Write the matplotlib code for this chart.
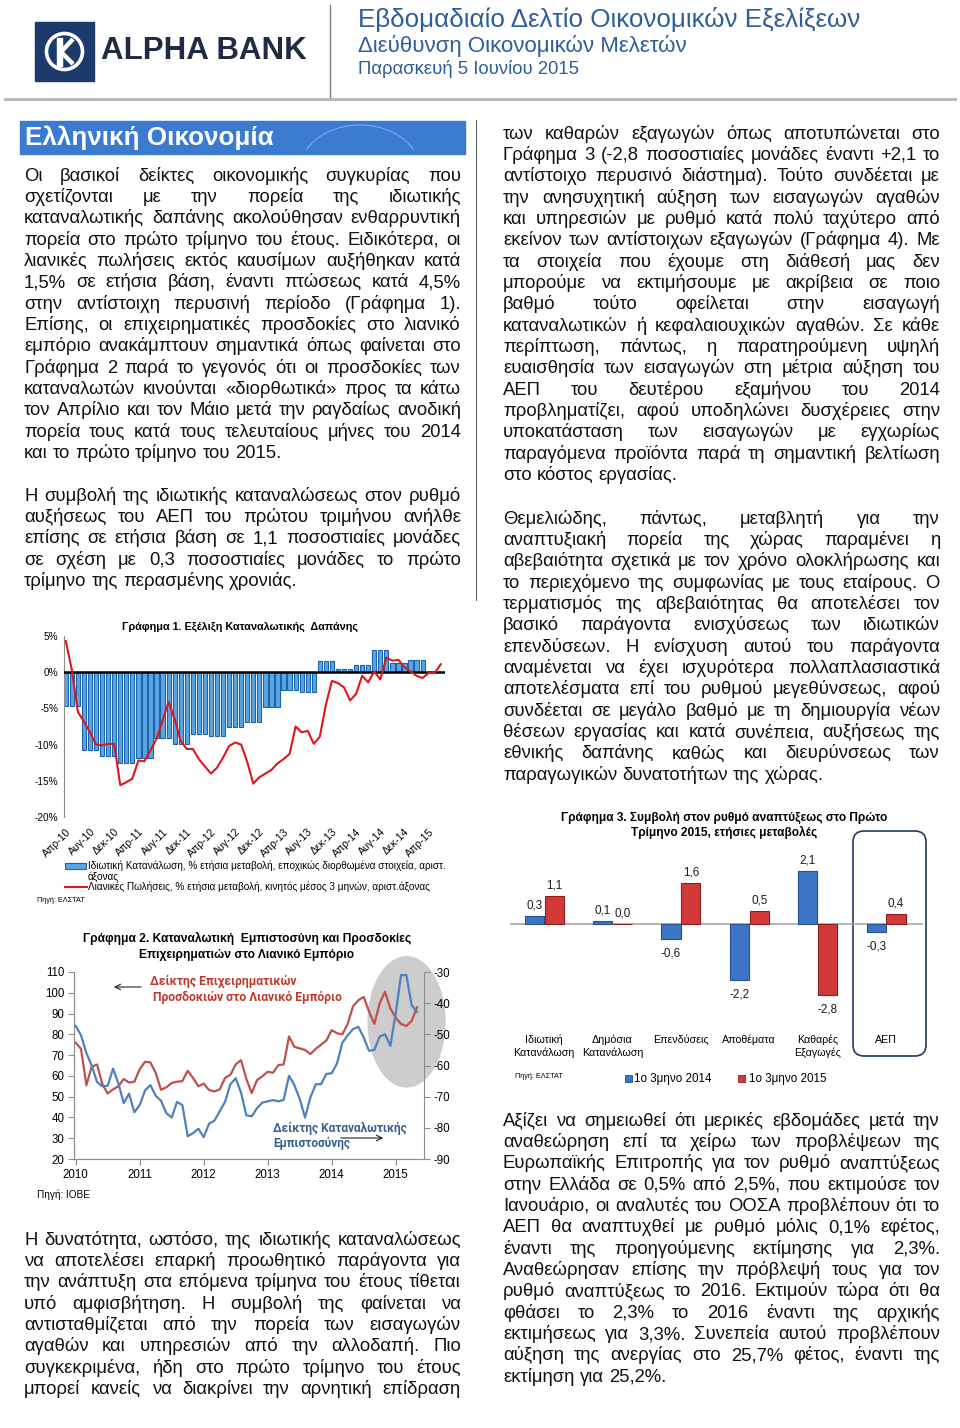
import numpy as np
import matplotlib
matplotlib.use('Agg')
import matplotlib.pyplot as plt
from matplotlib.font_manager import FontProperties
from matplotlib.patches import Rectangle, Ellipse, FancyBboxPatch, Circle, Polygon, Arc

plt.rcParams['font.family'] = ['Liberation Sans', 'DejaVu Sans']
plt.rcParams['axes.unicode_minus'] = False

# ---------------- data ----------------
# Chart 1: private consumption (quarterly, shown as 3 monthly bars), retail sales 3m MA (monthly)
cons_q = [-4.7, -10.8, -11.6, -12.5, -11.8, -9.1, -9.9, -8.5, -8.8, -7.6,
          -6.9, -4.8, -2.5, -2.8, 1.5, 0.5, 1.0, 3.0, 1.3, 1.7]
retail = [4.3, 0.3, -5.5, -6.8, -8.3, -10.0, -10.1, -9.9, -9.9, -15.6,
          -15.2, -14.7, -12.2, -12.3, -10.8, -9.2, -6.7, -4.1, -6.5, -9.5,
          -10.6, -10.6, -12.0, -13.0, -14.0, -13.2, -11.8, -10.2, -9.7, -10.0,
          -12.4, -15.4, -14.5, -14.0, -13.5, -12.6, -12.0, -11.3, -7.5, -8.3,
          -8.1, -9.9, -8.9, -4.5, -1.2, -1.5, -2.1, -3.9, -3.0, -0.5,
          -1.4, 0.1, -1.0, 2.0, 1.6, 1.7, 0.7, 0.1, -0.5, -0.8,
          -0.1, -0.1, 1.1]
ticks1 = ['Απρ-10', 'Αυγ-10', 'Δεκ-10', 'Απρ-11', 'Αυγ-11', 'Δεκ-11', 'Απρ-12', 'Αυγ-12',
          'Δεκ-12', 'Απρ-13', 'Αυγ-13', 'Δεκ-13', 'Απρ-14', 'Αυγ-14', 'Δεκ-14', 'Απρ-15']

# Chart 2: business expectations retail (left axis), consumer confidence (right axis), Jan 2010 - May 2015
retail_exp = [76, 73, 55.5, 64.4, 65.5, 56, 51.5, 53.5, 55, 58.5,
              56.8, 57.2, 63.2, 66.8, 66.5, 61.5, 53.3, 54.5, 56.6, 57.2,
              57.5, 62.5, 59, 55, 56.3, 53.2, 52.5, 53.5, 59, 60.5,
              65.5, 67.6, 58.5, 51.7, 58, 59.8, 62, 61.5, 65.2, 65.5,
              79, 74, 73.2, 72.5, 70.5, 73, 75, 77, 82, 80.5,
              80, 85, 93.5, 96.4, 98, 91, 85, 95, 100.5, 92.5,
              88, 85, 84, 86.5, 93]
cons_conf = [-47.3, -50.3, -56.0, -60.0, -65.3, -66.7, -66.5, -61.0, -65.7, -72.1,
             -69.0, -75.0, -72.7, -68.0, -66.3, -69.7, -71.3, -75.3, -76.7, -71.7,
             -72.7, -82.7, -81.7, -80.3, -83.0, -78.7, -77.7, -74.7, -71.7, -66.0,
             -64.1, -68.7, -76.0, -76.3, -73.7, -71.9, -71.5, -71.1, -71.5, -71.0,
             -63.3, -66.3, -70.7, -76.7, -70.3, -66.0, -66.0, -62.7, -62.5, -59.3,
             -52.7, -50.3, -48.3, -47.6, -51.0, -55.3, -55.0, -50.7, -50.0, -53.7,
             -43.3, -31.0, -31.0, -40.7, -42.8]
years2 = [2010, 2011, 2012, 2013, 2014, 2015]

# Chart 3: contributions to GDP growth
cats3 = [['Ιδιωτική', 'Κατανάλωση'], ['Δημόσια', 'Κατανάλωση'], ['Επενδύσεις'],
         ['Αποθέματα'], ['Καθαρές', 'Εξαγωγές'], ['ΑΕΠ']]
q1_2014 = [0.3, 0.1, -0.6, -2.2, 2.1, -0.3]
q1_2015 = [1.1, 0.0, 1.6, 0.5, -2.8, 0.4]

# body text
left_p1 = [
    'Οι βασικοί δείκτες οικονομικής συγκυρίας που',
    'σχετίζονται με την πορεία της ιδιωτικής',
    'καταναλωτικής δαπάνης ακολούθησαν ενθαρρυντική',
    'πορεία στο πρώτο τρίμηνο του έτους. Ειδικότερα, οι',
    'λιανικές πωλήσεις εκτός καυσίμων αυξήθηκαν κατά',
    '1,5% σε ετήσια βάση, έναντι πτώσεως κατά 4,5%',
    'στην αντίστοιχη περυσινή περίοδο (Γράφημα 1).',
    'Επίσης, οι επιχειρηματικές προσδοκίες στο λιανικό',
    'εμπόριο ανακάμπτουν σημαντικά όπως φαίνεται στο',
    'Γράφημα 2 παρά το γεγονός ότι οι προσδοκίες των',
    'καταναλωτών κινούνται «διορθωτικά» προς τα κάτω',
    'τον Απρίλιο και τον Μάιο μετά την ραγδαίως ανοδική',
    'πορεία τους κατά τους τελευταίους μήνες του 2014',
    'και το πρώτο τρίμηνο του 2015.']
left_p2 = [
    'Η συμβολή της ιδιωτικής καταναλώσεως στον ρυθμό',
    'αυξήσεως του ΑΕΠ του πρώτου τριμήνου ανήλθε',
    'επίσης σε ετήσια βάση σε 1,1 ποσοστιαίες μονάδες',
    'σε σχέση με 0,3 ποσοστιαίες μονάδες το πρώτο',
    'τρίμηνο της περασμένης χρονιάς.']
left_p3 = [
    'Η δυνατότητα, ωστόσο, της ιδιωτικής καταναλώσεως',
    'να αποτελέσει επαρκή προωθητικό παράγοντα για',
    'την ανάπτυξη στα επόμενα τρίμηνα του έτους τίθεται',
    'υπό αμφισβήτηση. Η συμβολή της φαίνεται να',
    'αντισταθμίζεται από την πορεία των εισαγωγών',
    'αγαθών και υπηρεσιών από την αλλοδαπή. Πιο',
    'συγκεκριμένα, ήδη στο πρώτο τρίμηνο του έτους',
    'μπορεί κανείς να διακρίνει την αρνητική επίδραση']
right_p1 = [
    'των καθαρών εξαγωγών όπως αποτυπώνεται στο',
    'Γράφημα 3 (-2,8 ποσοστιαίες μονάδες έναντι +2,1 το',
    'αντίστοιχο περυσινό διάστημα). Τούτο συνδέεται με',
    'την ανησυχητική αύξηση των εισαγωγών αγαθών',
    'και υπηρεσιών με ρυθμό κατά πολύ ταχύτερο από',
    'εκείνον των αντίστοιχων εξαγωγών (Γράφημα 4). Με',
    'τα στοιχεία που έχουμε στη διάθεσή μας δεν',
    'μπορούμε να εκτιμήσουμε με ακρίβεια σε ποιο',
    'βαθμό τούτο οφείλεται στην εισαγωγή',
    'καταναλωτικών ή κεφαλαιουχικών αγαθών. Σε κάθε',
    'περίπτωση, πάντως, η παρατηρούμενη υψηλή',
    'ευαισθησία των εισαγωγών στη μέτρια αύξηση του',
    'ΑΕΠ του δευτέρου εξαμήνου του 2014',
    'προβληματίζει, αφού υποδηλώνει δυσχέρειες στην',
    'υποκατάσταση των εισαγωγών με εγχωρίως',
    'παραγόμενα προϊόντα παρά τη σημαντική βελτίωση',
    'στο κόστος εργασίας.']
right_p2 = [
    'Θεμελιώδης, πάντως, μεταβλητή για την',
    'αναπτυξιακή πορεία της χώρας παραμένει η',
    'αβεβαιότητα σχετικά με τον χρόνο ολοκλήρωσης και',
    'το περιεχόμενο της συμφωνίας με τους εταίρους. Ο',
    'τερματισμός της αβεβαιότητας θα αποτελέσει τον',
    'βασικό παράγοντα ενισχύσεως των ιδιωτικών',
    'επενδύσεων. Η ενίσχυση αυτού του παράγοντα',
    'αναμένεται να έχει ισχυρότερα πολλαπλασιαστικά',
    'αποτελέσματα επί του ρυθμού μεγεθύνσεως, αφού',
    'συνδέεται σε μεγάλο βαθμό με τη δημιουργία νέων',
    'θέσεων εργασίας και κατά συνέπεια, αυξήσεως της',
    'εθνικής δαπάνης καθώς και διευρύνσεως των',
    'παραγωγικών δυνατοτήτων της χώρας.']
right_p3 = [
    'Αξίζει να σημειωθεί ότι μερικές εβδομάδες μετά την',
    'αναθεώρηση επί τα χείρω των προβλέψεων της',
    'Ευρωπαϊκής Επιτροπής για τον ρυθμό αναπτύξεως',
    'στην Ελλάδα σε 0,5% από 2,5%, που εκτιμούσε τον',
    'Ιανουάριο, οι αναλυτές του ΟΟΣΑ προβλέπουν ότι το',
    'ΑΕΠ θα αναπτυχθεί με ρυθμό μόλις 0,1% εφέτος,',
    'έναντι της προηγούμενης εκτίμησης για 2,3%.',
    'Αναθεώρησαν επίσης την πρόβλεψή τους για τον',
    'ρυθμό αναπτύξεως το 2016. Εκτιμούν τώρα ότι θα',
    'φθάσει το 2,3% το 2016 έναντι της αρχικής',
    'εκτιμήσεως για 3,3%. Συνεπεία αυτού προβλέπουν',
    'αύξηση της ανεργίας στο 25,7% φέτος, έναντι της',
    'εκτίμηση για 25,2%.']

# ---------------- page ----------------
W, H = 960, 1428
fig = plt.figure(figsize=(9.6, 14.28), dpi=100)
bg = fig.add_axes([0, 0, 1, 1])
bg.set_xlim(0, W)
bg.set_ylim(H, 0)
bg.axis('off')
rend = fig.canvas.get_renderer()


def width_of(s, size, weight='normal', family='Liberation Sans'):
    fp = FontProperties(family=[family], size=size, weight=weight)
    return rend.get_text_width_height_descent(s, fp, ismath=False)[0]


def fit(s, target, weight='normal', family='Liberation Sans'):
    return 10.0 * target / width_of(s, 10, weight, family)


def px_axes(l, t, r, b):
    return fig.add_axes([l / W, 1 - b / H, (r - l) / W, (b - t) / H])


BODY = fit('και το πρώτο τρίμηνο του 2015.', 259)
SPACE = width_of('a a', BODY) - width_of('aa', BODY)
STEP = 21.35


def para(lines, x0, x1, yc, justify_last=False):
    base = yc + 0.30 * BODY / 0.72
    for k, line in enumerate(lines):
        y = base + k * STEP
        words = line.split()
        ws = [width_of(w, BODY) for w in words]
        if k == len(lines) - 1 and not justify_last:
            gap = SPACE
        else:
            gap = (x1 - x0 - sum(ws)) / (len(words) - 1)
        x = x0
        for w, ww in zip(words, ws):
            bg.text(x, y, w, fontsize=BODY, va='baseline', ha='left', color='#111111')
            x += ww + gap


# header
bg.add_patch(Rectangle((35, 22), 59, 59, color='#1D3A6C', zorder=2))
bg.add_patch(Circle((64.5, 51.5), 18, fill=False, ec='white', lw=2.6, zorder=3))
bg.add_patch(Polygon([(57, 38), (62, 38), (62, 66), (57, 66)], color='white', zorder=3))
bg.plot([61, 73], [52, 39], color='white', lw=3.2, zorder=3, solid_capstyle='butt')
bg.plot([61, 73], [52, 64], color='white', lw=3.2, zorder=3, solid_capstyle='butt')
s = 'ALPHA BANK'
bg.text(101, 51, s, fontsize=fit(s, 204, 'bold'), weight='bold', color='#1F2B45', va='center')
bg.plot([330, 330], [5, 100], color='#7F7F7F', lw=1)
bg.plot([5, 955], [99, 99], color='#B5B5B5', lw=2)
t1 = 'Εβδομαδιαίο Δελτίο Οικονομικών Εξελίξεων'
t2 = 'Διεύθυνση Οικονομικών Μελετών'
t3 = 'Παρασκευή 5 Ιουνίου 2015'
bg.text(358, 19, t1, fontsize=fit(t1, 504), color='#2E5E9A', va='center')
bg.text(358, 46, t2, fontsize=fit(t2, 330), color='#2E5E9A', va='center')
bg.text(358, 69, t3, fontsize=fit(t3, 222), color='#2E5E9A', va='center')

# section bar
bar = Rectangle((20, 121), 445, 33, color='#3A7BD0', zorder=1)
bg.add_patch(bar)
for cx, cy, rw, rh, a1, a2 in [(300, 190, 260, 120, 20, 160), (420, 100, 200, 110, 180, 330),
                               (360, 170, 120, 90, 200, 340), (150, 80, 300, 120, 280, 360)]:
    arc = Arc((cx, cy), rw, rh, theta1=a1, theta2=a2, color='white', lw=0.8, alpha=0.35, zorder=1)
    bg.add_patch(arc)
    arc.set_clip_path(bar)
s = 'Ελληνική Οικονομία'
bg.text(25, 138, s, fontsize=fit(s, 247, 'bold'), weight='bold', color='white', va='center', zorder=3)
bg.plot([476, 476], [120, 600], color='#666666', lw=0.8)

# body text
para(left_p1, 24, 461, 175)
para(left_p2, 24, 461, 495)
para(left_p3, 24, 461, 1239, justify_last=True)
para(right_p1, 503, 940, 133)
para(right_p2, 503, 940, 518)
para(right_p3, 503, 940, 1120)

# ---------------- chart 1 ----------------
s = 'Γράφημα 1. Εξέλιξη Καταναλωτικής  Δαπάνης'
bg.text(240, 627, s, fontsize=fit(s, 235, 'bold'), weight='bold', ha='center', va='center')
ax1 = px_axes(64, 636, 445, 817)
ax1.patch.set_alpha(0)
cons_m = np.repeat(cons_q, 3)
ax1.bar(np.arange(len(cons_m)), cons_m, width=0.7, color='#5AA6E2', edgecolor='#1C63AC', lw=0.8, zorder=2)
ax1.plot(np.arange(len(retail)), retail, color='#E0161B', lw=1.5, zorder=4)
ax1.axhline(0, color='black', lw=1.8, zorder=3)
ax1.set_xlim(-0.3, 62.7)
ax1.set_ylim(-20, 5)
ax1.set_yticks([5, 0, -5, -10, -15, -20])
ax1.set_yticklabels(['5%', '0%', '-5%', '-10%', '-15%', '-20%'], fontsize=7.2)
ax1.set_xticks(np.arange(0, 61, 4))
ax1.set_xticklabels(ticks1, rotation=45, ha='right', va='top', rotation_mode='anchor', fontsize=7.6)
ax1.tick_params(length=0, pad=4)
ax1.tick_params(axis='x', pad=7)
for sp in ['top', 'right', 'bottom']:
    ax1.spines[sp].set_visible(False)
ax1.spines['left'].set_color('#8C8C8C')

leg1 = 'Ιδιωτική Κατανάλωση, % ετήσια μεταβολή, εποχικώς διορθωμένα στοιχεία, αριστ.'
fs_leg1 = fit(leg1, 357)
bg.add_patch(Rectangle((65, 863), 21, 6, fc='#5AA6E2', ec='#1C63AC', lw=0.8))
bg.text(88, 866, leg1, fontsize=fs_leg1, va='center')
bg.text(88, 876.5, 'άξονας', fontsize=fs_leg1, va='center')
bg.plot([65, 87], [887, 887], color='#E0161B', lw=1.5)
bg.text(88, 887, 'Λιανικές Πωλήσεις, % ετήσια μεταβολή, κινητός μέσος 3 μηνών, αριστ.άξονας',
        fontsize=fs_leg1, va='center')
bg.text(37, 900, 'Πηγή: ΕΛΣΤΑΤ', fontsize=fit('Πηγή: ΕΛΣΤΑΤ', 48), va='center')

# ---------------- chart 2 ----------------
s1 = 'Γράφημα 2. Καταναλωτική  Εμπιστοσύνη και Προσδοκίες'
s2 = 'Επιχειρηματιών στο Λιανικό Εμπόριο'
bg.text(247, 938, s1, fontsize=fit(s1, 325, 'bold'), weight='bold', ha='center', va='center')
bg.text(247, 955, s2, fontsize=fit(s1, 325, 'bold'), weight='bold', ha='center', va='center')
ax2 = px_axes(74, 972, 424, 1159)
ax2.patch.set_alpha(0)
x2 = 2010 + np.arange(len(retail_exp)) / 12.0
ax2.set_xlim(2010 - 1.7 / 64, 2010 + 348.3 / 64)
ax2.set_ylim(20, 110)
ax2.add_patch(Ellipse((2015.17, 86), 1.2, 62.6, color='#CDCDCD', zorder=0, clip_on=False))
ax2.plot(x2, retail_exp, color='#C0504D', lw=1.6, zorder=3)
ax2.set_yticks(np.arange(20, 111, 10))
ax2.set_xticks(years2)
ax2.set_xticklabels([str(y) for y in years2])
ax2b = ax2.twinx()
ax2b.plot(x2, cons_conf, color='#4F81BD', lw=1.6, zorder=3)
ax2b.set_ylim(-90, -30)
ax2b.set_yticks(np.arange(-90, -29, 10))
for a in (ax2, ax2b):
    a.tick_params(labelsize=8.3, length=4, color='#8C8C8C', width=0.8, pad=3)
    a.spines['top'].set_visible(False)
    for sp in ['left', 'right', 'bottom']:
        a.spines[sp].set_color('#8C8C8C')
ax2.spines['right'].set_visible(False)

LBL = 'Roboto'
l1 = 'Δείκτης Επιχειρηματικών'
l2 = 'Προσδοκιών στο Λιανικό Εμπόριο'
fs_l = fit(l2, 189, 'bold', LBL)
bg.text(150, 981, l1, fontsize=fs_l, weight='bold', family=[LBL, 'Liberation Sans'],
        color='#C0392B', va='center')
bg.text(153, 997, l2, fontsize=fs_l, weight='bold', family=[LBL, 'Liberation Sans'],
        color='#C0392B', va='center')
bg.annotate('', xy=(111, 987), xytext=(144, 987),
            arrowprops=dict(arrowstyle='->', color='#222222', lw=0.8))
b1 = 'Δείκτης Καταναλωτικής'
b2 = 'Εμπιστοσύνης'
fs_b = fit(b1, 134, 'bold', LBL)
bg.text(273, 1128, b1, fontsize=fs_b, weight='bold', family=[LBL, 'Liberation Sans'],
        color='#376092', va='center')
bg.text(273, 1143.5, b2, fontsize=fs_b, weight='bold', family=[LBL, 'Liberation Sans'],
        color='#376092', va='center')
bg.annotate('', xy=(386, 1138), xytext=(338, 1138),
            arrowprops=dict(arrowstyle='->', color='#222222', lw=0.8))
bg.text(37, 1195, 'Πηγή: ΙΟΒΕ', fontsize=fit('Πηγή: ΙΟΒΕ', 53), va='center')

# ---------------- chart 3 ----------------
s1 = 'Γράφημα 3. Συμβολή στον ρυθμό αναπτύξεως στο Πρώτο'
s2 = 'Τρίμηνο 2015, ετήσιες μεταβολές'
fs_t3 = fit(s1, 325, 'bold')
bg.text(724, 817, s1, fontsize=fs_t3, weight='bold', ha='center', va='center')
bg.text(724, 832, s2, fontsize=fs_t3, weight='bold', ha='center', va='center')
bg.add_patch(FancyBboxPatch((853, 831), 73, 225, boxstyle='round,pad=0,rounding_size=11',
                            fc='none', ec='#1F3864', lw=1.2))
ax3 = px_axes(510, 845, 923, 1000)
ax3.patch.set_alpha(0)
ax3.axis('off')
ax3.set_xlim(-0.5, 5.54)
ax3.set_ylim(-76 / 25.4, 79 / 25.4)
k3 = np.arange(len(q1_2014))
ax3.axhline(0, color='#A6A6A6', lw=1.2, zorder=1)
ax3.bar(k3 - 0.145, q1_2014, width=0.28, color='#3D74C6', edgecolor='#24508F', lw=0.8, zorder=2)
ax3.bar(k3 + 0.145, q1_2015, width=0.28, color='#D23A3A', edgecolor='#8C1E1E', lw=0.8, zorder=2)
for xs, vals in ((k3 - 0.145, q1_2014), (k3 + 0.145, q1_2015)):
    for xv, v in zip(xs, vals):
        lab = ('%.1f' % v).replace('.', ',')
        off = 10.5 if v >= 0 else -14.5
        ax3.annotate(lab, (xv, v), xytext=(0, off * 0.72), textcoords='offset points',
                     ha='center', va='center', fontsize=8.4, color='#1A1A1A')
fs_c3 = fit('Κατανάλωση', 61)
for k, lines in enumerate(cats3):
    for j, ln in enumerate(lines):
        bg.text(544 + 68.4 * k, 1040 + 12.5 * j, ln, fontsize=fs_c3, ha='center', va='center')
bg.text(515, 1077, 'Πηγή: ΕΛΣΤΑΤ', fontsize=fit('Πηγή: ΕΛΣΤΑΤ', 48), va='center')
bg.add_patch(Rectangle((625, 1075), 7, 7, fc='#3D74C6', ec='#24508F', lw=0.6))
bg.add_patch(Rectangle((738, 1075), 7, 7, fc='#D23A3A', ec='#8C1E1E', lw=0.6))
fs_lg3 = fit('1ο 3μηνο 2014', 77)
bg.text(634, 1079, '1ο 3μηνο 2014', fontsize=fs_lg3, va='center')
bg.text(749, 1079, '1ο 3μηνο 2015', fontsize=fs_lg3, va='center')

fig.savefig('out.png', dpi=100)
